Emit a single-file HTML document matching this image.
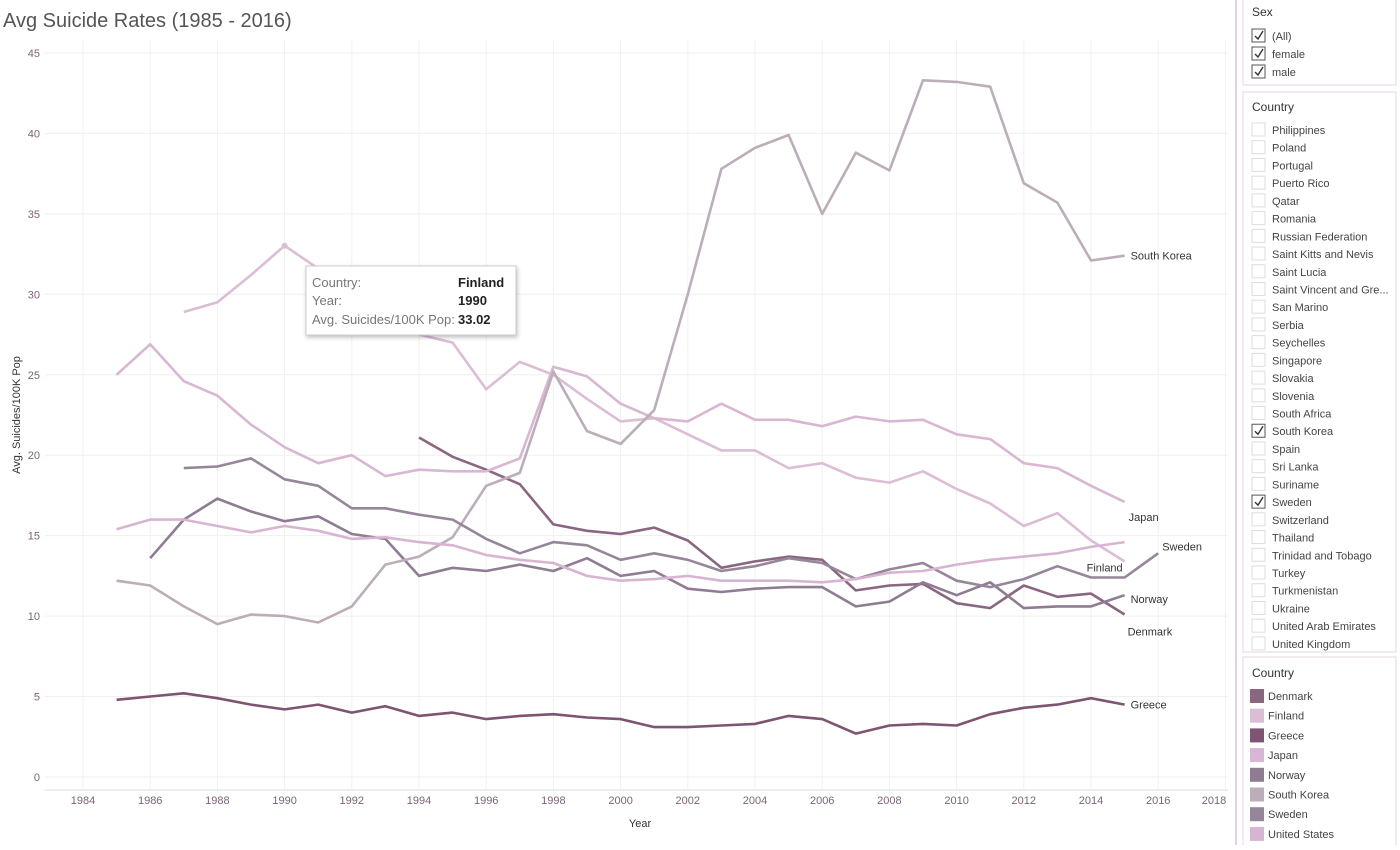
<!DOCTYPE html>
<html><head><meta charset="utf-8"><style>
body{margin:0;background:#fff;font-family:"Liberation Sans",sans-serif;}
svg text{font-family:"Liberation Sans",sans-serif;}
</style></head><body>
<svg id="chart" width="1400" height="845" viewBox="0 0 1400 845" xmlns="http://www.w3.org/2000/svg">
<text x="3" y="27" font-size="20" fill="#555">Avg Suicide Rates (1985 - 2016)</text>
<g id="grid"></g>
<g id="axes"></g>
<g id="series"></g>
<text transform="translate(20,415) rotate(-90)" text-anchor="middle" font-size="11" fill="#333">Avg. Suicides/100K Pop</text>
<text x="640" y="827" text-anchor="middle" font-size="11" fill="#333">Year</text>
<g>
<rect x="306" y="266" width="210" height="69" fill="#fff" stroke="#ccc" style="filter:drop-shadow(1px 2px 2px rgba(0,0,0,0.25))"/>
<text x="312" y="287" font-size="13" fill="#777">Country:</text>
<text x="458" y="287" font-size="13" fill="#222" font-weight="bold">Finland</text>
<text x="312" y="305" font-size="13" fill="#777">Year:</text>
<text x="458" y="305" font-size="13" fill="#222" font-weight="bold">1990</text>
<text x="312" y="324" font-size="13" fill="#777">Avg. Suicides/100K Pop:</text>
<text x="458" y="324" font-size="13" fill="#222" font-weight="bold">33.02</text>
</g>
<line x1="1236" y1="0" x2="1236" y2="845" stroke="#e3d3e0" stroke-width="2"/>
<g id="panel"></g>
</svg>
<script>
const years = [1985,1986,1987,1988,1989,1990,1991,1992,1993,1994,1995,1996,1997,1998,1999,2000,2001,2002,2003,2004,2005,2006,2007,2008,2009,2010,2011,2012,2013,2014,2015,2016];
const yTicks = [0,5,10,15,20,25,30,35,40,45];
const xTicks = [1984,1986,1988,1990,1992,1994,1996,1998,2000,2002,2004,2006,2008,2010,2012,2014,2016,2018];
const countries = ["Denmark","Finland","Greece","Japan","Norway","South Korea","Sweden","United States"];
const denmark = [null,null,null,null,null,null,null,null,null,21.1,19.9,19.1,18.2,15.7,15.3,15.1,15.5,14.7,13.0,13.4,13.7,13.5,11.6,11.9,12.0,10.8,10.5,11.9,11.2,11.4,10.1,null];
const finland = [null,null,28.9,29.5,31.2,33.02,31.6,30.0,28.6,27.5,27.0,24.1,25.8,25.0,23.5,22.1,22.3,21.3,20.3,20.3,19.2,19.5,18.6,18.3,19.0,17.9,17.0,15.6,16.4,14.7,13.4,null];
const greece = [4.8,5.0,5.2,4.9,4.5,4.2,4.5,4.0,4.4,3.8,4.0,3.6,3.8,3.9,3.7,3.6,3.1,3.1,3.2,3.3,3.8,3.6,2.7,3.2,3.3,3.2,3.9,4.3,4.5,4.9,4.5,null];
const japan = [25.0,26.9,24.6,23.7,21.9,20.5,19.5,20.0,18.7,19.1,19.0,19.0,19.8,25.5,24.9,23.2,22.3,22.1,23.2,22.2,22.2,21.8,22.4,22.1,22.2,21.3,21.0,19.5,19.2,18.1,17.1,null];
const norway = [null,13.6,16.0,17.3,16.5,15.9,16.2,15.1,14.8,12.5,13.0,12.8,13.2,12.8,13.6,12.5,12.8,11.7,11.5,11.7,11.8,11.8,10.6,10.9,12.1,11.3,12.1,10.5,10.6,10.6,11.3,null];
const southKorea = [12.2,11.9,10.6,9.5,10.1,10.0,9.6,10.6,13.2,13.7,14.9,18.1,18.9,25.2,21.5,20.7,22.8,30.0,37.8,39.1,39.9,35.0,38.8,37.7,43.3,43.2,42.9,36.9,35.7,32.1,32.4,null];
const sweden = [null,null,19.2,19.3,19.8,18.5,18.1,16.7,16.7,16.3,16.0,14.8,13.9,14.6,14.4,13.5,13.9,13.5,12.8,13.1,13.6,13.3,12.3,12.9,13.3,12.2,11.8,12.3,13.1,12.4,12.4,13.9];
const unitedStates = [15.4,16.0,16.0,15.6,15.2,15.6,15.3,14.8,14.9,14.6,14.4,13.8,13.5,13.3,12.5,12.2,12.3,12.5,12.2,12.2,12.2,12.1,12.3,12.7,12.8,13.2,13.5,13.7,13.9,14.3,14.6,null];
const seriesValues = [denmark,finland,greece,japan,norway,southKorea,sweden,unitedStates];
const colors = ["#8a6680","#dcbdd6","#7d5570","#d9b6d3","#8f7c92","#bbaeb9","#958699","#d7b5d2"];
const labeled = {"Denmark":[3,21],"Finland":[-38,10],"Greece":[6,4],"Japan":[4,19],"Norway":[6,8],"South Korea":[6,4],"Sweden":[4,-3],"United States":null};

const NS="http://www.w3.org/2000/svg";
const X0=45,X1=1228,Y0=40,Y1=790;
function xs(yr){return 83+(yr-1984)*33.6;}
function ys(v){return 777-v*16.09;}
function mk(tag,attrs,parent){const e=document.createElementNS(NS,tag);for(const k in attrs)e.setAttribute(k,attrs[k]);parent.appendChild(e);return e;}

const grid=document.getElementById('grid'),axes=document.getElementById('axes'),ser=document.getElementById('series'),panel=document.getElementById('panel');
yTicks.forEach(t=>{
  const l=mk('line',{x1:X0,x2:X1,y1:ys(t),y2:ys(t),stroke:"#efefef"},grid);
  
  
  const tx=mk('text',{x:40,y:ys(t)+4,'text-anchor':'end','font-size':11,fill:'#7a6478'},axes);
  tx.textContent=t;
  
  
});
xTicks.forEach(t=>{
  const l=mk('line',{x1:xs(t),x2:xs(t),y1:Y0,y2:Y1,stroke:"#f1f1f1"},grid);
  
  
  const tx=mk('text',{x:Math.min(xs(t),1214),y:804,'text-anchor':'middle','font-size':11,fill:'#7a6478'},axes);
  tx.textContent=t;
  
  
});
const ax=mk('line',{x1:X0,x2:X1,y1:Y1,y2:Y1,stroke:"#ddd"},axes);



countries.forEach((c,i)=>{
  const vals=seriesValues[i];let d="";let last=null;
  vals.forEach((v,j)=>{if(v==null)return;d+=(d?"L":"M")+xs(years[j]).toFixed(1)+","+ys(v).toFixed(1);last=j;});
  const p=mk('path',{d:d,fill:'none',stroke:colors[i],'stroke-width':2.6,'stroke-linejoin':'round'},ser);
  
  
  const off=labeled[c];
  if(off){
    const t=mk('text',{x:xs(years[last])+off[0],y:ys(vals[last])+off[1],'font-size':11,fill:'#333'},ser);
    t.textContent=c;
    
    
  }
});
const dot=mk('circle',{cx:xs(1990),cy:ys(33.02),r:3,fill:'#dcbdd6'},ser);



function box(y,h,name){const r=mk('rect',{x:1243,y:y,width:153,height:h,fill:'#fff',stroke:'#e3d5e0'},panel);}
box(-1,86,'sex-filter-box');box(92,560,'country-filter-box');box(657,190,'legend-box');
function txt(x,y,s,size,fill,name,inter){const t=mk('text',{x:x,y:y,'font-size':size,fill:fill},panel);t.textContent=s;return t;}
function cb(x,y,checked,name){const r=mk('rect',{x:x,y:y,width:13,height:13,fill:'#fff',stroke:checked?'#555':'#ddd'},panel);
  if(checked){const p=mk('path',{d:`M${x+3},${y+7}l3,3l5,-8`,fill:'none',stroke:'#333','stroke-width':1.4},panel);}}
txt(1252,16,'Sex',12,'#333','sex-filter-title','false');
const sexItems=["(All)","female","male"];
sexItems.forEach((s,i)=>{cb(1252,29+i*18,true,'sex-checkbox');txt(1272,40+i*18,s,11,'#444','sex-option','true');});
txt(1252,111,'Country',12,'#333','country-filter-title','false');
const filterItems=["Philippines","Poland","Portugal","Puerto Rico","Qatar","Romania","Russian Federation","Saint Kitts and Nevis","Saint Lucia","Saint Vincent and Gre...","San Marino","Serbia","Seychelles","Singapore","Slovakia","Slovenia","South Africa","South Korea","Spain","Sri Lanka","Suriname","Sweden","Switzerland","Thailand","Trinidad and Tobago","Turkey","Turkmenistan","Ukraine","United Arab Emirates","United Kingdom"];
filterItems.forEach((s,i)=>{const y=133+i*17.72;if(y>648)return;cb(1252,y-10,s==="South Korea"||s==="Sweden",'country-checkbox');txt(1272,y+1,s,11,'#444','country-option','true');});
txt(1252,677,'Country',12,'#333','legend-title','false');
countries.forEach((c,i)=>{const y=696+i*19.7;const r=mk('rect',{x:1250,y:y-7,width:14,height:14,fill:colors[i]},panel);
  txt(1268,y+4,c,11,'#444','legend-entry','true');});
</script>
</body></html>
